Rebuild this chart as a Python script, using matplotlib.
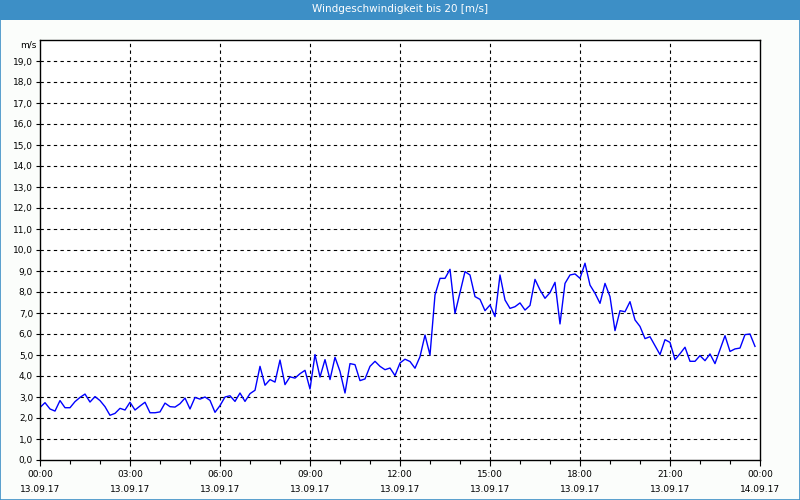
import numpy as np
import matplotlib.pyplot as plt
from matplotlib.patches import Rectangle

# wind speed, 10-minute values from 13.09.17 00:00 to 23:50 (m/s)
speed = [
    2.5, 2.73, 2.43, 2.33, 2.83, 2.49, 2.49, 2.78, 2.98, 3.14,
    2.76, 3.02, 2.83, 2.54, 2.13, 2.22, 2.46, 2.38, 2.75, 2.38,
    2.57, 2.75, 2.25, 2.25, 2.29, 2.71, 2.54, 2.52, 2.68, 2.95,
    2.43, 2.98, 2.90, 3.0, 2.84, 2.27, 2.59, 3.0, 3.06, 2.79,
    3.19, 2.79, 3.16, 3.32, 4.46, 3.56, 3.83, 3.71, 4.76, 3.59,
    3.96, 3.90, 4.11, 4.27, 3.38, 5.02, 3.95, 4.78, 3.83, 4.89,
    4.22, 3.19, 4.59, 4.54, 3.78, 3.86, 4.46, 4.70, 4.46, 4.30,
    4.38, 4.02, 4.62, 4.80, 4.69, 4.37, 4.92, 5.95, 5.0, 7.86,
    8.65, 8.65, 9.08, 6.98, 7.97, 8.97, 8.81, 7.78, 7.65, 7.11,
    7.38, 6.83, 8.81, 7.62, 7.22, 7.30, 7.48, 7.14, 7.36, 8.60,
    8.10, 7.70, 7.97, 8.46, 6.48, 8.41, 8.81, 8.86, 8.65, 9.37,
    8.33, 7.94, 7.46, 8.41, 7.78, 6.16, 7.11, 7.06, 7.54, 6.67,
    6.36, 5.78, 5.87, 5.44, 5.02, 5.73, 5.60, 4.78, 5.06, 5.37,
    4.70, 4.70, 4.97, 4.73, 5.05, 4.59, 5.25, 5.92, 5.17, 5.29,
    5.33, 5.97, 6.0, 5.41,
]
hours = np.arange(len(speed)) / 6.0

tick_hours = [0, 3, 6, 9, 12, 15, 18, 21, 24]
tick_labels = ["00:00\n13.09.17", "03:00\n13.09.17", "06:00\n13.09.17",
               "09:00\n13.09.17", "12:00\n13.09.17", "15:00\n13.09.17",
               "18:00\n13.09.17", "21:00\n13.09.17", "00:00\n14.09.17"]
y_ticks = np.arange(0, 20)

bg = "#fbfdfb"
bar = "#3d8fc6"

fig = plt.figure(figsize=(8, 5), dpi=100, facecolor=bg)

# title bar and frame
fig.patches.append(Rectangle((0, 0.96), 1, 0.04, transform=fig.transFigure,
                             facecolor=bar, edgecolor="none", zorder=0))
fig.patches.append(Rectangle((0.0006, 0.001), 0.9988, 0.998, transform=fig.transFigure,
                             facecolor="none", edgecolor=bar, linewidth=1.2, zorder=5))
fig.text(0.5, 0.981, "Windgeschwindigkeit bis 20 [m/s]", color="white",
         ha="center", va="center", fontsize=7.5)

ax = fig.add_axes([0.05, 0.08, 0.90, 0.84])
ax.set_facecolor("white")
ax.plot(hours, speed, color="#0000ff", linewidth=1)

ax.set_xlim(0, 24)
ax.set_ylim(0, 20)
ax.set_xticks(tick_hours)
ax.set_xticklabels(tick_labels, fontsize=6.5, linespacing=1.85)
ax.set_xticks(np.arange(0, 25, 1), minor=True)
ax.set_yticks(y_ticks)
ax.set_yticklabels([f"{v:.1f}".replace(".", ",") for v in y_ticks], fontsize=6.5)

ax.tick_params(axis="x", which="major", length=4, width=0.8, pad=3)
ax.tick_params(axis="x", which="minor", length=3, width=0.8)
ax.tick_params(axis="y", length=3, width=0.8, pad=2)

for h in tick_hours[1:-1]:
    ax.axvline(h, color="black", linewidth=0.8, linestyle=(0, (3, 3)), zorder=0)
for v in y_ticks[1:]:
    ax.axhline(v, color="black", linewidth=0.8, linestyle=(0, (3, 3)), zorder=0)

for s in ax.spines.values():
    s.set_linewidth(1)
    s.set_color("black")

fig.text(0.046, 0.91, "m/s", ha="right", va="center", fontsize=6.5)

fig.savefig("out.png", dpi=100, facecolor=bg)
